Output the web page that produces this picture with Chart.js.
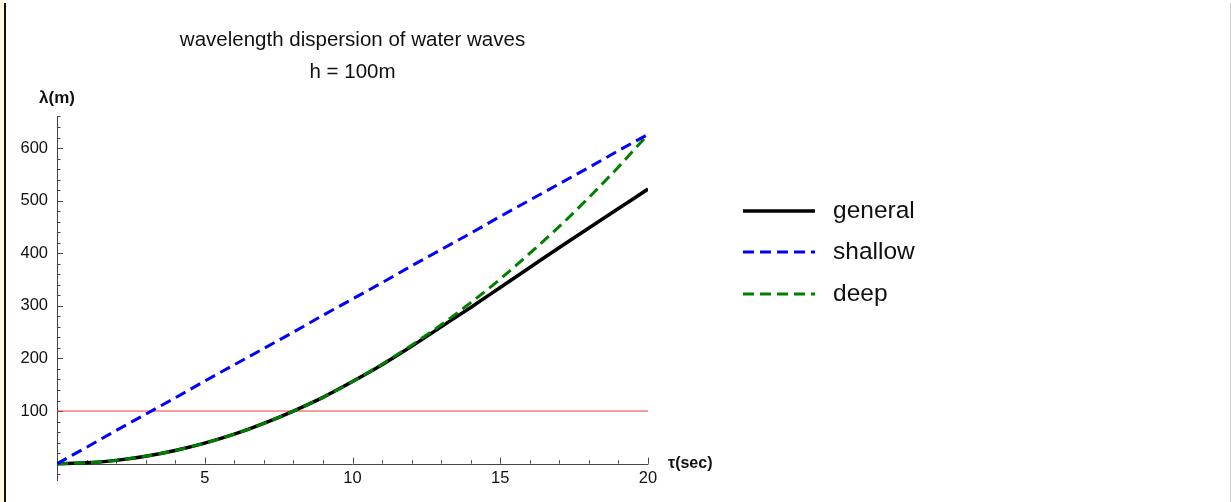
<!DOCTYPE html>
<html>
<head>
<meta charset="utf-8">
<style>
  html, body { margin: 0; padding: 0; background: #fff; }
  canvas { display: block; }
</style>
<script src="https://cdn.jsdelivr.net/npm/chart.js@4/dist/chart.umd.min.js"></script>
</head>
<body>
<canvas id="chart" width="1231" height="502"></canvas>
<script>
// periodo (s)
const tau = [0, 1, 2, 3, 4, 5, 6, 7, 8, 9, 10, 11, 12, 13, 14, 15, 16, 17, 18, 19, 20];
// lunghezza d'onda (m)
const general = [0, 1.6, 6.2, 14, 25, 39, 56, 76.5, 100, 126, 156, 188, 223, 260, 297, 335, 373, 411, 448, 485, 522];
const shallow = [0, 31, 63, 94, 125, 157, 188, 219, 250, 282, 313, 344, 376, 407, 438, 470, 501, 532, 563, 595, 626];
const deep = [0, 1.6, 6.2, 14, 25, 39, 56, 76.5, 100, 126, 156, 189, 225, 264, 306, 351, 400, 451, 506, 564, 626];
const refLevel = 100;
const xTicks = [5, 10, 15, 20];
const yTicks = [100, 200, 300, 400, 500, 600];
const titleLines = ['wavelength dispersion of water waves', 'h = 100m'];
const seriesNames = ['general', 'shallow', 'deep'];

const pts = (ys) => tau.map((t, i) => ({ x: t, y: ys[i] }));

const axesPlugin = {
  id: 'mmaAxes',
  beforeDatasetsDraw(chart) {
    const ctx = chart.ctx;
    const xs = chart.scales.x, ys = chart.scales.y;
    const x0 = xs.getPixelForValue(0), y0 = ys.getPixelForValue(0);
    ctx.save();
    ctx.strokeStyle = '#444';
    ctx.lineWidth = 1;
    ctx.beginPath();
    // asse y
    ctx.moveTo(Math.round(x0) + 0.5, ys.getPixelForValue(ys.min));
    ctx.lineTo(Math.round(x0) + 0.5, ys.getPixelForValue(ys.max));
    // asse x
    ctx.moveTo(x0, Math.round(y0) + 0.5);
    ctx.lineTo(xs.getPixelForValue(20) + 0.5, Math.round(y0) + 0.5);
    // tacche y
    for (let v = -20; v <= 660; v += 20) {
      if (v === 0) continue;
      const py = Math.round(ys.getPixelForValue(v)) + 0.5;
      const len = v % 100 === 0 ? 6 : 3.5;
      ctx.moveTo(x0, py);
      ctx.lineTo(x0 + len, py);
    }
    // tacche x
    for (let v = 1; v <= 20; v++) {
      const px = Math.round(xs.getPixelForValue(v)) + 0.5;
      const len = v % 5 === 0 ? 6 : 3.5;
      ctx.moveTo(px, y0);
      ctx.lineTo(px, y0 - len);
    }
    ctx.stroke();

    ctx.fillStyle = '#111';
    ctx.font = '16.5px "Liberation Sans", Arial, sans-serif';
    ctx.textAlign = 'right';
    ctx.textBaseline = 'middle';
    yTicks.forEach(v => ctx.fillText(String(v), x0 - 9, ys.getPixelForValue(v)));
    ctx.textAlign = 'center';
    ctx.textBaseline = 'top';
    xTicks.forEach(v => ctx.fillText(String(v), xs.getPixelForValue(v), y0 + 7));
    ctx.restore();
  },
  afterDraw(chart) {
    const ctx = chart.ctx;
    const xs = chart.scales.x, ys = chart.scales.y;
    ctx.save();
    // bordo sinistro
    ctx.fillStyle = '#fffbe3';
    ctx.fillRect(0, 0, 4, chart.height);
    ctx.fillStyle = '#111';
    ctx.fillRect(4, 3, 2, chart.height - 3);
    ctx.fillStyle = '#ccc';
    ctx.fillRect(chart.width - 1, 3, 1, chart.height - 3);

    ctx.fillStyle = '#111';
    const cx = (xs.left + xs.right) / 2;
    ctx.font = '20.5px "Liberation Sans", Arial, sans-serif';
    ctx.textAlign = 'center';
    ctx.textBaseline = 'middle';
    ctx.fillText(titleLines[0], cx, 40);
    ctx.fillText(titleLines[1], cx, 72);

    ctx.font = 'bold 17px "Liberation Sans", Arial, sans-serif';
    ctx.fillText('λ(m)', xs.getPixelForValue(0), 98);
    ctx.font = 'bold 16px "Liberation Sans", Arial, sans-serif';
    ctx.textAlign = 'left';
    ctx.fillText('τ(sec)', xs.getPixelForValue(20) + 20, ys.getPixelForValue(0));

    // legenda
    const sets = chart.data.datasets;
    const rows = [211, 252, 294];
    ctx.font = '24.5px "Liberation Sans", Arial, sans-serif';
    seriesNames.forEach((name, i) => {
      const ds = sets.find(d => d.label === name);
      ctx.strokeStyle = ds.borderColor;
      ctx.lineWidth = ds.borderWidth;
      ctx.setLineDash(ds.borderDash || []);
      ctx.beginPath();
      ctx.moveTo(743, rows[i]);
      ctx.lineTo(815, rows[i]);
      ctx.stroke();
      ctx.setLineDash([]);
      ctx.fillStyle = '#111';
      ctx.fillText(name, 833, rows[i]);
    });
    ctx.restore();
  }
};

new Chart(document.getElementById('chart'), {
  type: 'line',
  plugins: [axesPlugin],
  data: {
    datasets: [
      { label: 'ref', data: [{ x: 0, y: refLevel }, { x: 20, y: refLevel }], borderColor: '#f03a3a', borderWidth: 1, pointRadius: 0, order: 5 },
      { label: 'general', data: pts(general), borderColor: '#000', borderWidth: 3.5, pointRadius: 0, cubicInterpolationMode: 'monotone', order: 4 },
      { label: 'shallow', data: pts(shallow), borderColor: '#0000ff', borderWidth: 3, borderDash: [11, 6], pointRadius: 0, order: 2 },
      { label: 'deep', data: pts(deep), borderColor: '#008000', borderWidth: 3, borderDash: [11, 6], pointRadius: 0, cubicInterpolationMode: 'monotone', order: 3 }
    ]
  },
  options: {
    responsive: false,
    animation: false,
    layout: { padding: { left: 57, right: 583, top: 117, bottom: 21 } },
    scales: {
      x: { type: 'linear', min: 0, max: 20, display: false },
      y: { type: 'linear', min: -33, max: 659, display: false }
    },
    plugins: { legend: { display: false }, tooltip: { enabled: false } }
  }
});
</script>
</body>
</html>
